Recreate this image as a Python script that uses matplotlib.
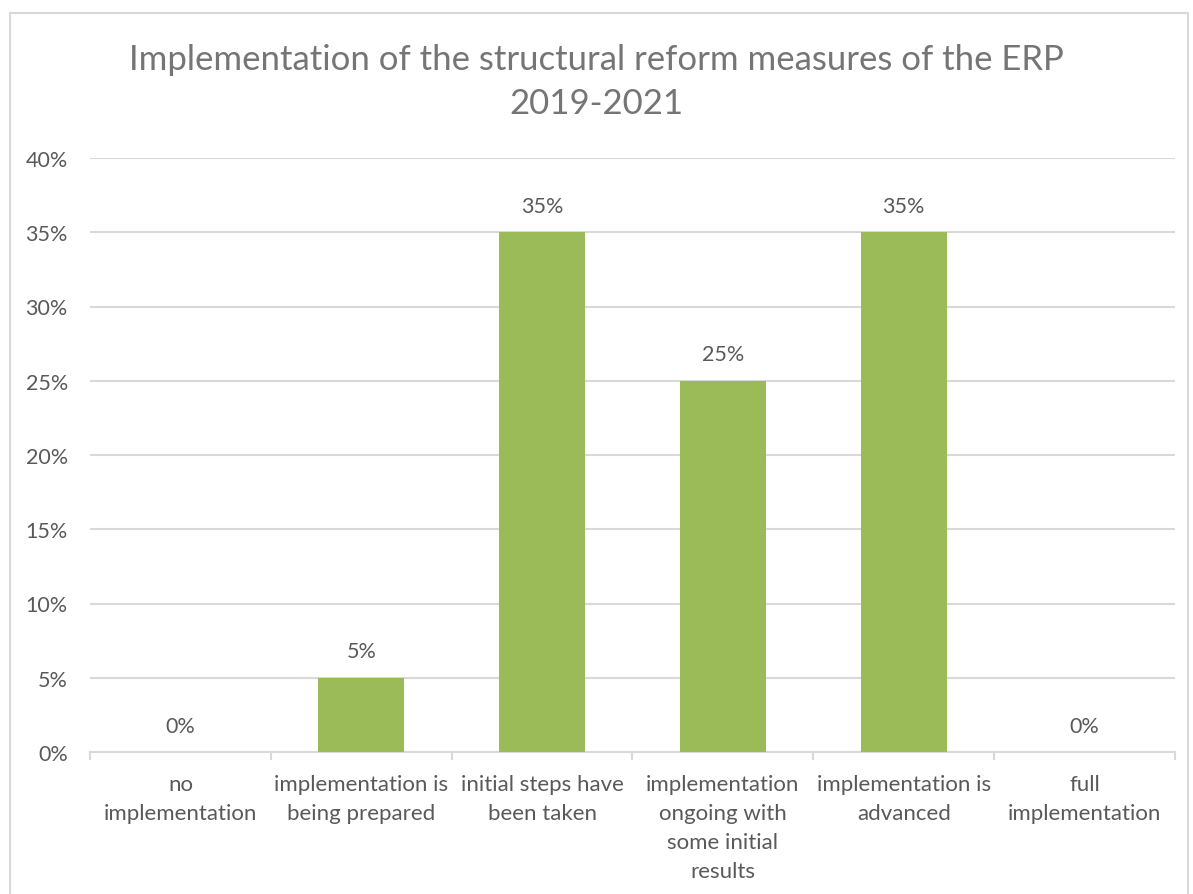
import matplotlib.pyplot as plt
from matplotlib.patches import Rectangle

categories = ['no\nimplementation', 'implementation is\nbeing prepared',
              'initial steps have\nbeen taken',
              'implementation\nongoing with\nsome initial\nresults',
              'implementation is\nadvanced', 'full\nimplementation']
shares = [0, 5, 35, 25, 35, 0]
y_ticks = [0, 5, 10, 15, 20, 25, 30, 35, 40]

bar_green = '#9bbb59'
text_gray = '#595959'
grid_gray = '#d9d9d9'

plt.rcParams['font.family'] = ['Lato', 'DejaVu Sans']

fig = plt.figure(figsize=(11.93, 8.95), dpi=100, facecolor='white')
ax = fig.add_axes([90 / 1193, 1 - 753 / 895, 1085 / 1193, 594 / 895])

# chart border
fig.patches.append(Rectangle((10 / 1193, -0.05), 1178 / 1193, 1 - 14 / 895 + 0.05,
                             transform=fig.transFigure, fill=False,
                             edgecolor=grid_gray, linewidth=1.5))

x = range(len(categories))
ax.bar(x, shares, width=0.475, color=bar_green, zorder=3)
ax.set_xlim(-0.5, len(categories) - 0.5)
ax.set_ylim(0, 40)

for xi, v in zip(x, shares):
    ax.annotate(f'{v}%', (xi, v), xytext=(0, 19), textcoords='offset points',
                ha='center', va='center', fontsize=15.5, color=text_gray)

ax.set_yticks(y_ticks)
ax.set_yticklabels([f'{t}%' for t in y_ticks], fontsize=15.5, color=text_gray)
ax.tick_params(axis='y', length=0, pad=16)
ax.yaxis.grid(True, color=grid_gray, linewidth=1.5, zorder=0)

ax.set_xticks([i + 0.5 for i in range(-1, len(categories))], minor=False)
ax.set_xticklabels([])
ax.tick_params(axis='x', length=6, color=grid_gray, width=1.5)
for xi, lab in zip(x, categories):
    ax.text(xi, -1.45, lab, ha='center', va='top', fontsize=16,
            color=text_gray, linespacing=1.58,
            transform=ax.transData)

for s in ['top', 'right', 'left']:
    ax.spines[s].set_visible(False)
ax.spines['bottom'].set_color(grid_gray)
ax.spines['bottom'].set_linewidth(1.5)

fig.text(0.5, 1 - 82 / 895, 'Implementation of the structural reform measures of the ERP\n2019-2021',
         ha='center', va='center', fontsize=25, color='#757575', linespacing=1.5)

fig.savefig('out.png', dpi=100, facecolor='white')
